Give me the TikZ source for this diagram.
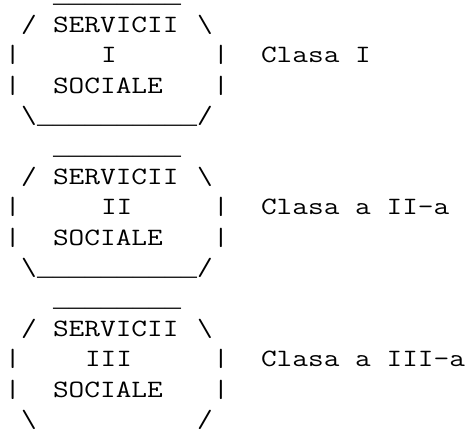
\documentclass[tikz,border=0pt]{standalone}
\usepackage{fontspec}
\usepackage{graphicx}
\newfontfamily\ulfont{Liberation Mono}
\newcommand\mono[1]{\scalebox{1.224}[1]{\ttfamily\fontsize{24.9}{30.4}\selectfont #1}}
\newcommand\ulline[1]{{\ulfont\fontsize{26.67}{30.4}\selectfont #1}}
\newcommand\txtat[4]{\node[txt] (#1) at ({5+16*#2},{32.4+30.4*#3}) {#4};}
\begin{document}
\begin{tikzpicture}[x=1pt,y=-1pt,
  txt/.style={inner sep=0pt, outer sep=0pt, anchor=base west, text=black}]
\useasboundingbox (0,0) rectangle (476,431);
% ---- block 1 ----
\txtat{top1}{3}{-1}{\ulline{\_\_\_\_\_\_\_\_}}
\txtat{ls1}{1}{0}{\mono{/}}
\txtat{sv1}{3}{0}{\mono{SERVICII}}
\txtat{rs1}{12}{0}{\mono{\textbackslash}}
\txtat{lb1}{0}{1}{\mono{|}}
\txtat{num1}{6}{1}{\mono{I}}
\txtat{rb1}{13}{1}{\mono{|}}
\txtat{cls1}{16}{1}{\mono{Clasa I}}
\txtat{lc1}{0}{2}{\mono{|}}
\txtat{so1}{3}{2}{\mono{SOCIALE}}
\txtat{rc1}{13}{2}{\mono{|}}
\txtat{bl1}{1}{3}{\mono{\textbackslash}}
\txtat{bot1}{2}{3}{\ulline{\_\_\_\_\_\_\_\_\_\_}}
\txtat{br1}{12}{3}{\mono{/}}
% ---- block 2 ----
\txtat{top2}{3}{4}{\ulline{\_\_\_\_\_\_\_\_}}
\txtat{ls2}{1}{5}{\mono{/}}
\txtat{sv2}{3}{5}{\mono{SERVICII}}
\txtat{rs2}{12}{5}{\mono{\textbackslash}}
\txtat{lb2}{0}{6}{\mono{|}}
\txtat{num2}{6}{6}{\mono{II}}
\txtat{rb2}{13}{6}{\mono{|}}
\txtat{cls2}{16}{6}{\mono{Clasa a II-a}}
\txtat{lc2}{0}{7}{\mono{|}}
\txtat{so2}{3}{7}{\mono{SOCIALE}}
\txtat{rc2}{13}{7}{\mono{|}}
\txtat{bl2}{1}{8}{\mono{\textbackslash}}
\txtat{bot2}{2}{8}{\ulline{\_\_\_\_\_\_\_\_\_\_}}
\txtat{br2}{12}{8}{\mono{/}}
% ---- block 3 ----
\txtat{top3}{3}{9}{\ulline{\_\_\_\_\_\_\_\_}}
\txtat{ls3}{1}{10}{\mono{/}}
\txtat{sv3}{3}{10}{\mono{SERVICII}}
\txtat{rs3}{12}{10}{\mono{\textbackslash}}
\txtat{lb3}{0}{11}{\mono{|}}
\txtat{num3}{5}{11}{\mono{III}}
\txtat{rb3}{13}{11}{\mono{|}}
\txtat{cls3}{16}{11}{\mono{Clasa a III-a}}
\txtat{lc3}{0}{12}{\mono{|}}
\txtat{so3}{3}{12}{\mono{SOCIALE}}
\txtat{rc3}{13}{12}{\mono{|}}
\txtat{bl3}{1}{13}{\mono{\textbackslash}}
\txtat{br3}{12}{13}{\mono{/}}
\end{tikzpicture}
\end{document}
